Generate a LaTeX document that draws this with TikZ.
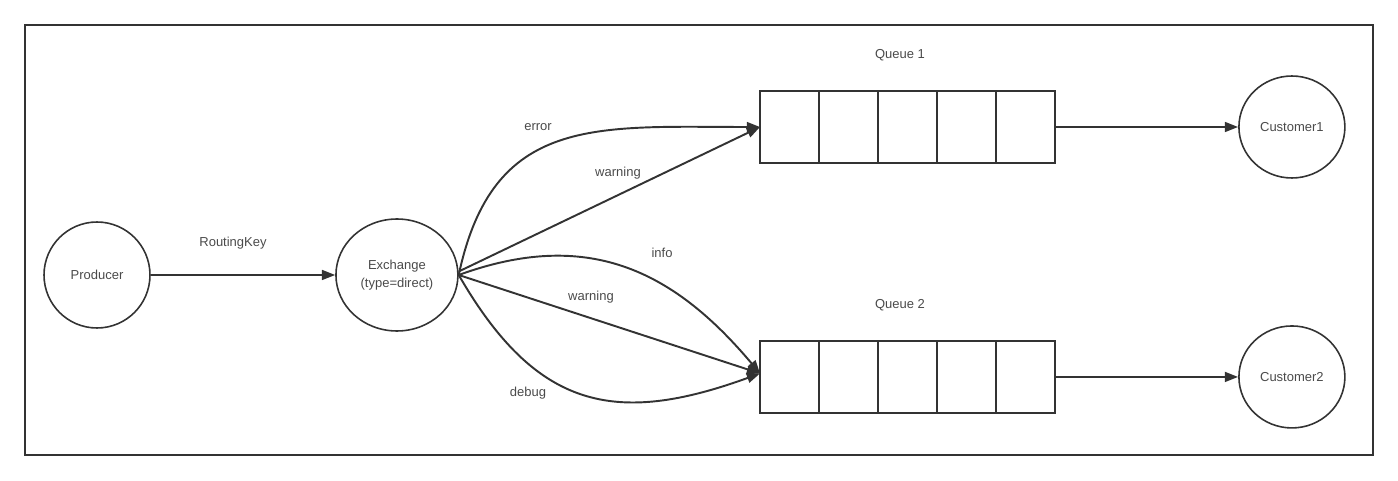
\documentclass[tikz,border=0pt]{standalone}
\usepackage{fontspec}
\setmainfont{Liberation Sans}
\usetikzlibrary{positioning, arrows.meta, shapes.geometric}
\definecolor{ink}{HTML}{333333}
\definecolor{txt}{HTML}{4A4A4A}
\tikzstyle{actor} = [ellipse, draw=ink, line width=0.9pt, minimum width=2.12cm, minimum height=2.12cm, inner sep=0pt, text=txt, align=center, font=\fontsize{7.4}{10}\selectfont]
\tikzstyle{cell} = [rectangle, draw=ink, line width=1.1pt, minimum width=1.18cm, minimum height=1.44cm, inner sep=0pt, outer sep=0pt]
\tikzstyle{lbl} = [text=txt, inner sep=0pt, font=\fontsize{7.4}{10}\selectfont]
\tikzstyle{arrow} = [line width=1.1pt, draw=ink, -{Triangle[length=7.5pt,width=5.6pt]}]

\begin{document}
\begin{tikzpicture}[x=0.02cm, y=0.02cm, node distance=6cm]
        \useasboundingbox (0,0) rectangle (1398,480);
        \draw [ink, line width=1.1pt] (25,25) rectangle (1373,455);

        \node (producer) [actor] at (97,205) {Producer};
        \node (exchange) [actor, right of=producer, minimum width=2.44cm, minimum height=2.24cm] {Exchange\\(type=direct)};

        % queue 1
        \node (q1a) [cell] at (789.5,353) {};
        \foreach \i/\j in {b/a, c/b, d/c, e/d}
            \node (q1\i) [cell, right of=q1\j, node distance=1.18cm] {};
        \node (queue1) [lbl, above of=q1c, node distance=1.43cm, xshift=-0.15cm] {Queue 1};

        % queue 2
        \node (q2a) [cell, below of=q1a, node distance=5cm] {};
        \foreach \i/\j in {b/a, c/b, d/c, e/d}
            \node (q2\i) [cell, right of=q2\j, node distance=1.18cm] {};
        \node (queue2) [lbl, above of=q2c, node distance=1.43cm, xshift=-0.15cm] {Queue 2};

        \node (customer1) [actor, right of=q1e, node distance=5.33cm, minimum height=2.04cm] {Customer1};
        \node (customer2) [actor, right of=q2e, node distance=5.33cm, minimum height=2.04cm] {Customer2};

        \draw [arrow] (producer) -- (exchange);
        \node (keylbl) [lbl] at (233,237) {RoutingKey};

        \draw [arrow] (exchange.east) to[out=78, in=180, looseness=1.25] (q1a.west);
        \draw [arrow] ([yshift=2pt]exchange.east) -- (q1a.west);
        \draw [arrow] (exchange.east) to[out=20, in=130, looseness=1.1] ([yshift=2pt]q2a.west);
        \draw [arrow] (exchange.east) -- ([yshift=2pt]q2a.west);
        \draw [arrow] (exchange.east) to[out=-60, in=200, looseness=1.25] ([yshift=2pt]q2a.west);

        \node (errlbl) [lbl] at (538,353) {error};
        \node (warnlbl1) [lbl] at (618,307) {warning};
        \node (infolbl) [lbl] at (662,227) {info};
        \node (warnlbl2) [lbl] at (591,183) {warning};
        \node (debuglbl) [lbl] at (528,87) {debug};

        \draw [arrow] (q1e) -- (customer1);
        \draw [arrow] (q2e) -- (customer2);

        \end{tikzpicture}
\end{document}
